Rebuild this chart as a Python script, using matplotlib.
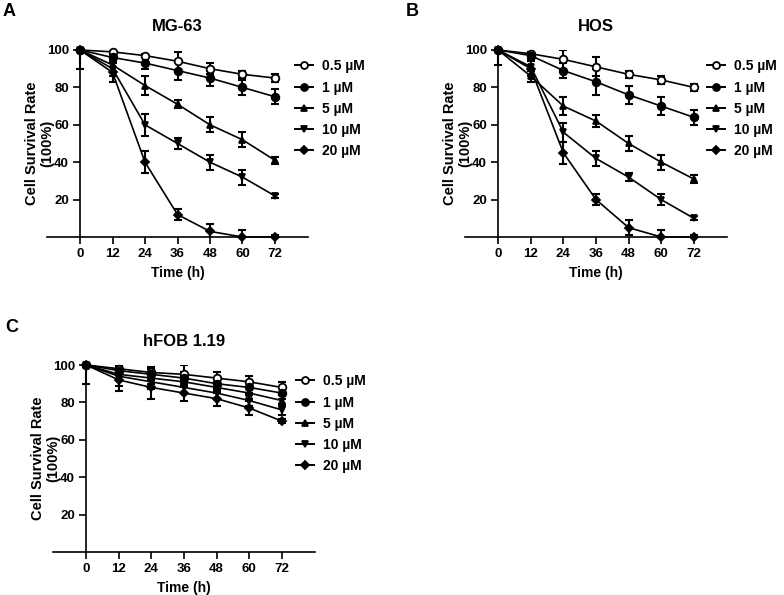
import matplotlib
matplotlib.use("Agg")
import matplotlib.pyplot as plt
from matplotlib.lines import Line2D

plt.rcParams['font.family'] = ['Liberation Sans', 'DejaVu Sans']
plt.rcParams['font.weight'] = 'bold'

# time points (h)
time = [0, 12, 24, 36, 48, 60, 72]
doses = ["0.5 µM", "1 µM", "5 µM", "10 µM", "20 µM"]

# MG-63 survival (%) and SD
mg63_05 = [100, 99, 97, 94, 90, 87, 85]
mg63_1 = [100, 96, 93, 89, 85, 80, 75]
mg63_5 = [100, 92, 81, 71, 60, 52, 41]
mg63_10 = [100, 90, 60, 50, 40, 32, 22]
mg63_20 = [100, 88, 40, 12, 3, 0, 0]
mg63_05_sd = [0, 1, 1, 5, 3, 2, 2]
mg63_1_sd = [0, 2, 3, 5, 4, 4, 4]
mg63_5_sd = [0, 4, 5, 2, 4, 4, 2]
mg63_10_sd = [0, 4, 6, 3, 4, 4, 1]
mg63_20_sd = [10, 5, 6, 3, 4, 4, 1]

# HOS survival (%) and SD
hos_05 = [100, 98, 95, 91, 87, 84, 80]
hos_1 = [100, 97, 89, 83, 76, 70, 64]
hos_5 = [100, 86, 70, 62, 50, 40, 31]
hos_10 = [100, 91, 56, 42, 32, 20, 10]
hos_20 = [100, 90, 45, 20, 5, 0, 0]
hos_05_sd = [0, 1, 5, 5, 2, 2, 2]
hos_1_sd = [0, 2, 4, 7, 5, 5, 4]
hos_5_sd = [0, 3, 5, 3, 4, 4, 2]
hos_10_sd = [0, 4, 5, 4, 2, 3, 1]
hos_20_sd = [8, 4, 6, 3, 4, 4, 1]

# hFOB 1.19 survival (%) and SD
hfob_05 = [100, 98, 96, 95, 93, 91, 88]
hfob_1 = [100, 97, 95, 93, 90, 88, 85]
hfob_5 = [100, 95, 93, 91, 88, 85, 81]
hfob_10 = [100, 94, 91, 88, 85, 81, 76]
hfob_20 = [100, 92, 88, 85, 82, 77, 70]
hfob_05_sd = [0, 2, 3, 5, 3, 3, 3]
hfob_1_sd = [0, 2, 3, 3, 3, 3, 3]
hfob_5_sd = [0, 3, 3, 3, 3, 3, 3]
hfob_10_sd = [0, 5, 4, 3, 3, 3, 3]
hfob_20_sd = [10, 6, 6, 4, 4, 4, 1]

panels = [
    ("A", "MG-63", [mg63_05, mg63_1, mg63_5, mg63_10, mg63_20],
     [mg63_05_sd, mg63_1_sd, mg63_5_sd, mg63_10_sd, mg63_20_sd]),
    ("B", "HOS", [hos_05, hos_1, hos_5, hos_10, hos_20],
     [hos_05_sd, hos_1_sd, hos_5_sd, hos_10_sd, hos_20_sd]),
    ("C", "hFOB 1.19", [hfob_05, hfob_1, hfob_5, hfob_10, hfob_20],
     [hfob_05_sd, hfob_1_sd, hfob_5_sd, hfob_10_sd, hfob_20_sd]),
]

markers = ["o", "o", "^", "v", "D"]
faces = ["white", "black", "black", "black", "black"]
msizes = [5.5, 5.5, 5, 5, 4.5]

W, H = 784, 595
fig = plt.figure(figsize=(W / 100, H / 100), dpi=100)

# axes boxes in pixels: x-axis left/right, top/bottom, legend left, letter position
boxes = [(47, 308, 50, 237, 289, (3, 12)),
         (465, 727, 50, 237, 701, (406, 12)),
         (53, 315, 365, 552, 290, (5, 327))]

for (letter, title, series, errs), (x0, x1, ytop, ybot, lx, lpos) in zip(panels, boxes):
    ax = fig.add_axes([x0 / W, 1 - ybot / H, (x1 - x0) / W, (ybot - ytop) / H])
    handles = []
    for i in range(5):
        # error bars are clipped at the axes frame (only the lower part shows at 100)
        ax.errorbar(time, series[i], yerr=errs[i], fmt="none", ecolor="black",
                    capsize=3, capthick=1.5, elinewidth=1.5, zorder=2)
        ax.plot(time, series[i], color="black", lw=1.2,
                marker=markers[i], mfc=faces[i], mec="black", mew=1.3,
                ms=msizes[i], clip_on=False, zorder=3)
        handles.append(Line2D([], [], color="black", lw=1.4, marker=markers[i],
                              mfc=faces[i], mec="black", mew=1.3,
                              ms=msizes[i] - 0.5))
    ax.set_xlim(-12.2, 84.2)
    ax.set_ylim(0, 100)
    ax.spines["left"].set_position(("data", 0))
    ax.spines["right"].set_visible(False)
    ax.spines["top"].set_visible(False)
    for s in ("left", "bottom"):
        ax.spines[s].set_linewidth(1.2)
    ax.set_xticks(time)
    ax.set_yticks([20, 40, 60, 80, 100])
    ax.tick_params(labelsize=9.5, width=1.2, length=5, pad=3)
    ax.set_xlabel("Time (h)", fontsize=10, fontweight="bold", labelpad=4)
    ax.set_title(title, fontsize=12, fontweight="bold", pad=14)
    ax.legend(handles, doses, loc="upper left",
              bbox_to_anchor=((lx - x0) / (x1 - x0), 0.98),
              frameon=False, fontsize=10, handlelength=1.3, handletextpad=0.7,
              labelspacing=0.52, borderaxespad=0)
    fig.text((x0 - 7) / W, 1 - (ytop + ybot) / 2 / H,
             "Cell Survival Rate\n(100%)", rotation=90, ha="center",
             va="center", fontsize=10.5, fontweight="bold",
             multialignment="center", linespacing=1.1)
    fig.text(lpos[0] / W, 1 - lpos[1] / H, letter, fontsize=13,
             fontweight="bold", ha="left", va="center")

fig.savefig("out.png", dpi=100)
